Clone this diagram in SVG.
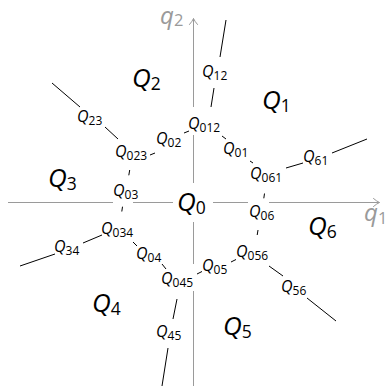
<svg xmlns="http://www.w3.org/2000/svg" width="388" height="386" viewBox="0 0 388 386">
<style>
.ax{stroke:#9a9a9a;stroke-width:1;fill:none}
.ah{stroke:#9a9a9a;stroke-width:1;fill:none;stroke-linecap:round;stroke-linejoin:round}
.cn{stroke:#000;stroke-width:1;fill:none}
text{font-family:"Open Sans","Noto Sans",sans-serif;fill:#000}
.big{font-size:26px;font-style:italic}
.sm{font-size:16px;font-style:italic}
.big .s{font-size:17.5px;font-style:normal}
.sm .s{font-size:12px;font-style:normal}
.ql{fill:#9a9a9a;font-size:24px}
.ql .s{font-size:16.5px}
</style>
<rect width="388" height="386" fill="#fff"/>
<g id="axes">
<path class="ax" d="M8,202.5H113M133,202.5H173M213,202.5H248M269,202.5H379.5"/>
<path class="ah" d="M373.5,198.5Q377,201.5 379.5,202.5Q377,203.5 373.5,206.5"/>
<path class="ax" d="M193.5,386V291M193.5,264V222M193.5,183V135M193.5,107V18.5"/>
<path class="ah" d="M189.5,24.5Q192.5,21 193.5,18.5Q194.5,21 197.5,24.5"/>
<text id="q1" class="big ql" x="364" y="221">q<tspan class="s" dy="3">1</tspan></text>
<text id="q2" class="big ql" x="160" y="23.5">q<tspan class="s" dy="2.5">2</tspan></text>
</g>
<g id="connectors">
<path class="cn" d="M226,20L220,57M214,88L211,107"/>
<path class="cn" d="M222,136L226,139M250,161L253,163"/>
<path class="cn" d="M286,168L303,163M332,153L367,139"/>
<path class="cn" d="M264.5,193.5L263.8,198.3M258,230L257.2,235"/>
<path class="cn" d="M231,262L236,259.5M197,274L202,271.5"/>
<path class="cn" d="M269,266L283,276M307,298L336,321"/>
<path class="cn" d="M177,299L173,319M168,348L162,386"/>
<path class="cn" d="M162,264L166,269M133,242L137,246"/>
<path class="cn" d="M102,235L83,243M55,254L20,266"/>
<path class="cn" d="M122.5,206.7L121.8,211.5M129.7,170L128.8,175.3"/>
<path class="cn" d="M150,155L155,153M184,133L189,131"/>
<path class="cn" d="M52,83L80,107M105,127L118,139"/>
</g>
<g id="Q0"><text class="big" x="177" y="211">Q<tspan class="s" dy="3">0</tspan></text></g>
<g id="Q1"><text class="big" x="262" y="109">Q<tspan class="s" dy="3">1</tspan></text></g>
<g id="Q2"><text class="big" x="132" y="87">Q<tspan class="s" dy="3">2</tspan></text></g>
<g id="Q3"><text class="big" x="48" y="187">Q<tspan class="s" dy="3">3</tspan></text></g>
<g id="Q4"><text class="big" x="92" y="312">Q<tspan class="s" dy="3">4</tspan></text></g>
<g id="Q5"><text class="big" x="223" y="335">Q<tspan class="s" dy="3">5</tspan></text></g>
<g id="Q6"><text class="big" x="308" y="235">Q<tspan class="s" dy="3">6</tspan></text></g>
<g id="Q12"><text class="sm" x="202" y="77">Q<tspan class="s" dy="3">12</tspan></text></g>
<g id="Q012"><text class="sm" x="188" y="129">Q<tspan class="s" dy="3">012</tspan></text></g>
<g id="Q01"><text class="sm" x="223" y="154">Q<tspan class="s" dy="3">01</tspan></text></g>
<g id="Q061"><text class="sm" x="250" y="179">Q<tspan class="s" dy="3">061</tspan></text></g>
<g id="Q61"><text class="sm" x="303" y="162">Q<tspan class="s" dy="3">61</tspan></text></g>
<g id="Q23"><text class="sm" x="77" y="122">Q<tspan class="s" dy="3">23</tspan></text></g>
<g id="Q02"><text class="sm" x="156" y="144">Q<tspan class="s" dy="3">02</tspan></text></g>
<g id="Q023"><text class="sm" x="115" y="157">Q<tspan class="s" dy="3">023</tspan></text></g>
<g id="Q03"><text class="sm" x="113" y="196">Q<tspan class="s" dy="3">03</tspan></text></g>
<g id="Q034"><text class="sm" x="101" y="234">Q<tspan class="s" dy="3">034</tspan></text></g>
<g id="Q34"><text class="sm" x="54" y="252">Q<tspan class="s" dy="3">34</tspan></text></g>
<g id="Q04"><text class="sm" x="136" y="259">Q<tspan class="s" dy="3">04</tspan></text></g>
<g id="Q045"><text class="sm" x="161" y="284">Q<tspan class="s" dy="3">045</tspan></text></g>
<g id="Q45"><text class="sm" x="156" y="337">Q<tspan class="s" dy="3">45</tspan></text></g>
<g id="Q05"><text class="sm" x="202" y="271">Q<tspan class="s" dy="3">05</tspan></text></g>
<g id="Q056"><text class="sm" x="236" y="257">Q<tspan class="s" dy="3">056</tspan></text></g>
<g id="Q56"><text class="sm" x="281" y="292">Q<tspan class="s" dy="3">56</tspan></text></g>
<g id="Q06"><text class="sm" x="249" y="217">Q<tspan class="s" dy="3">06</tspan></text></g>
</svg>
